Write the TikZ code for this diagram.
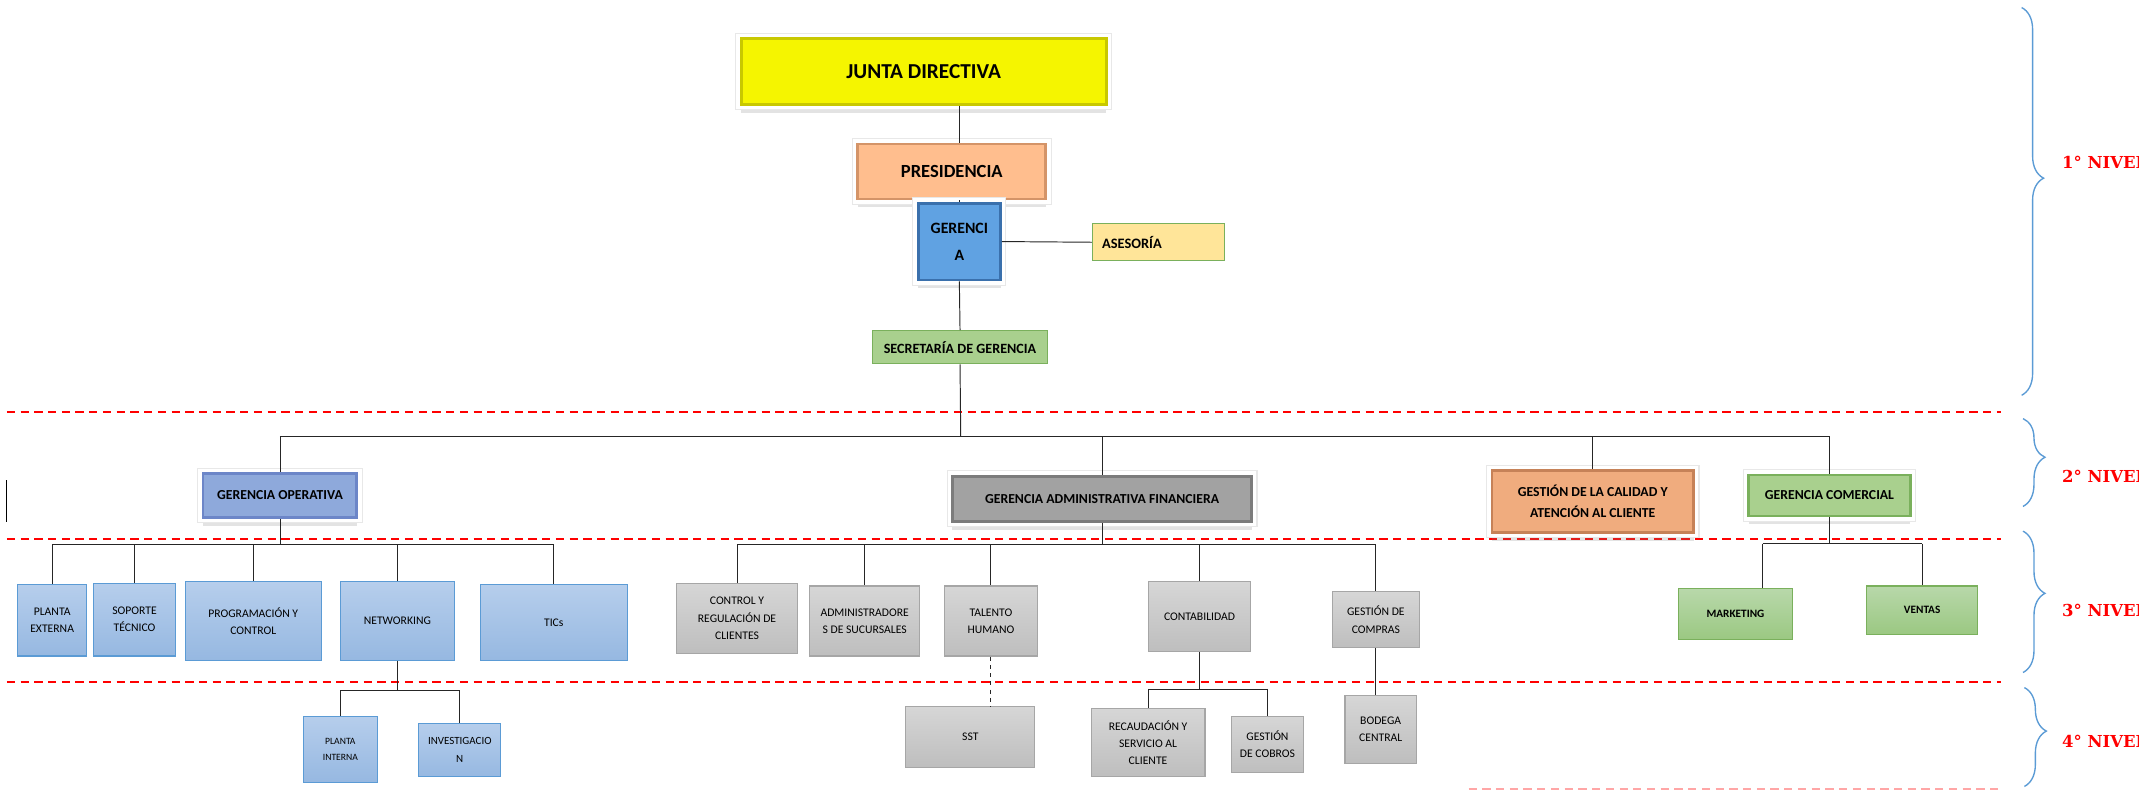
\documentclass[tikz,border=0pt]{standalone}
\usepackage{fontspec}
\setmainfont{Carlito}
\newfontfamily\nivelfont{DejaVu Serif}
\usetikzlibrary{shadows,decorations.pathreplacing}

\definecolor{jdfill}{RGB}{245,245,0}
\definecolor{jdline}{RGB}{200,200,0}
\definecolor{presfill}{RGB}{255,190,142}
\definecolor{presline}{RGB}{212,148,104}
\definecolor{gerfill}{RGB}{96,162,226}
\definecolor{gerline}{RGB}{58,112,172}
\definecolor{asefill}{RGB}{255,229,153}
\definecolor{greenfill}{RGB}{169,208,142}
\definecolor{greenline}{RGB}{122,176,92}
\definecolor{gofill}{RGB}{142,169,219}
\definecolor{goline}{RGB}{108,134,200}
\definecolor{gaffill}{RGB}{162,162,162}
\definecolor{gafline}{RGB}{124,124,124}
\definecolor{calfill}{RGB}{240,172,126}
\definecolor{calline}{RGB}{198,130,88}
\definecolor{bluetop}{RGB}{182,206,236}
\definecolor{bluebot}{RGB}{150,184,225}
\definecolor{blueline}{RGB}{91,155,213}
\definecolor{graytop}{RGB}{214,214,214}
\definecolor{graybot}{RGB}{190,190,190}
\definecolor{grayline}{RGB}{166,166,166}
\definecolor{greentop}{RGB}{184,216,170}
\definecolor{greenbot}{RGB}{155,200,130}
\definecolor{braceblue}{RGB}{91,155,213}

\begin{document}
\begin{tikzpicture}[
    x=1pt, y=-1pt,
    font=\bfseries,
    box/.style={rectangle, inner sep=1pt, align=center, text=black},
    bevel/.style={draw=#1, line width=2pt},
    halo/.style={drop shadow={opacity=.22, shadow xshift=0pt, shadow yshift=-6pt},
        preaction={draw=black!9, line width=8.6pt},
        preaction={draw=white, line width=7pt}},
    topbox/.style={box, font=\bfseries\fontsize{10}{15.5}\selectfont},
    bluebox/.style={box, top color=bluetop, bottom color=bluebot, draw=blueline,
        line width=.8pt, font=\fontsize{8.5}{12.5}\selectfont},
    graybox/.style={box, top color=graytop, bottom color=graybot, draw=grayline,
        line width=.8pt, font=\fontsize{8.5}{12.5}\selectfont},
    greenbox/.style={box, top color=greentop, bottom color=greenbot, draw=greenline,
        line width=.8pt, font=\bfseries\fontsize{8.2}{12}\selectfont},
    conn/.style={draw=black!85, line width=.7pt},
    level/.style={draw=red, line width=1.6pt, dash pattern=on 6pt off 4pt},
    nivelbrace/.style={draw=braceblue, line width=1pt, decorate,
        decoration={brace, amplitude=16pt, aspect=.44}},
    nivel/.style={anchor=west, text=red, font=\nivelfont\bfseries\fontsize{12}{12}\selectfont}
]
\useasboundingbox (0,0) rectangle (1568,576);

% Niveles
\draw[level] (5,300) -- (1458,300);
\draw[level] (5,393) -- (1458,393);
\draw[level] (5,497) -- (1458,497);
\draw[level, opacity=.35] (1070,575) -- (1458,575);
\draw[black, line width=.6pt] (5,350) -- (5,380);

\draw[nivelbrace] (1473,5.5) -- (1473,288);
\draw[nivelbrace] (1474,305) -- (1474,369);
\draw[nivelbrace] (1474,387) -- (1474,490);
\draw[nivelbrace] (1475,501) -- (1475,573);
\begin{scope}
\clip (1490,0) rectangle (1558.5,576);
\node[nivel] (n1) at (1499,118) {1° NIVEL};
\node[nivel] (n2) at (1499,347) {2° NIVEL};
\node[nivel] (n3) at (1499,445) {3° NIVEL};
\node[nivel] (n4) at (1499,540) {4° NIVEL};
\end{scope}

% Primer nivel
\node[box, halo, fill=jdfill, bevel=jdline, minimum width=266pt, minimum height=48pt,
    font=\bfseries\fontsize{15.5}{18}\selectfont] (jd) at (673,52) {JUNTA DIRECTIVA};
\node[box, halo, fill=presfill, bevel=presline, minimum width=137pt, minimum height=40pt,
    font=\bfseries\fontsize{13.5}{16}\selectfont] (pres) at (693.5,125) {PRESIDENCIA};
\node[box, halo, fill=gerfill, bevel=gerline, minimum width=60pt, minimum height=56pt,
    font=\bfseries\fontsize{11.5}{20}\selectfont] (ger) at (699,176) {GERENCI\\A};
\node[box, fill=asefill, draw=greenline, line width=.8pt, text width=82pt, align=left,
    inner xsep=7pt, minimum height=27pt,
    font=\bfseries\fontsize{10.5}{12}\selectfont] (ase) at (844,176.5) {ASESORÍA};
\node[box, fill=greenfill, draw=greenline, line width=.8pt, minimum width=127pt,
    minimum height=24pt, font=\bfseries\fontsize{10.3}{12}\selectfont] (sec) at (699.5,253)
    {SECRETARÍA DE GERENCIA};

\draw[conn] (jd.south -| ger.north) -- (pres.north -| ger.north);
\draw[conn] (pres.south -| ger.north) -- (ger.north);
\draw[conn] (ger.east) -- (ase.west);
\draw[conn] (ger.south) -- (sec.north);

% Segundo nivel
\node[topbox, halo, fill=gofill, bevel=goline, minimum width=112pt, minimum height=32pt]
    (go) at (204,361) {GERENCIA OPERATIVA};
\node[topbox, halo, fill=gaffill, bevel=gafline, minimum width=218pt, minimum height=33pt]
    (gaf) at (803,363.5) {GERENCIA ADMINISTRATIVA FINANCIERA};
\node[topbox, halo, fill=calfill, bevel=calline, minimum width=147pt, minimum height=45pt]
    (gcal) at (1160.5,365.5) {GESTIÓN DE LA CALIDAD Y\\ATENCIÓN AL CLIENTE};
\node[topbox, halo, fill=greenfill, bevel=greenline, minimum width=118pt, minimum height=30pt]
    (gcom) at (1333,361) {GERENCIA COMERCIAL};

\coordinate (bus) at (700,318);
\draw[conn] (sec.south) -- (bus);
\draw[conn] (go.north |- bus) -- (gcom.north |- bus);
\draw[conn] (go.north |- bus) -- (go.north) (gaf.north |- bus) -- (gaf.north)
    (gcal.north |- bus) -- (gcal.north) (gcom.north |- bus) -- (gcom.north);

% Tercer nivel: gerencia operativa
\node[bluebox, minimum width=50pt, minimum height=52pt] (pe) at (38,452) {PLANTA\\EXTERNA};
\node[bluebox, minimum width=60pt, minimum height=53pt] (st) at (98,451.5) {SOPORTE\\TÉCNICO};
\node[bluebox, minimum width=99pt, minimum height=57pt] (pc) at (184.5,452.5) {PROGRAMACIÓN Y\\CONTROL};
\node[bluebox, minimum width=83pt, minimum height=57pt] (nw) at (289.5,452.5) {NETWORKING};
\node[bluebox, minimum width=107pt, minimum height=55pt] (tic) at (403.5,453.5) {TICs};

\coordinate (gobus) at (204,397);
\draw[conn] (go.south) -- (gobus);
\draw[conn] (pe.north |- gobus) -- (tic.north |- gobus);
\draw[conn] (pe.north |- gobus) -- (pe.north) (st.north |- gobus) -- (st.north)
    (pc.north |- gobus) -- (pc.north) (nw.north |- gobus) -- (nw.north)
    (tic.north |- gobus) -- (tic.north);

% Tercer nivel: gerencia administrativa financiera
\node[graybox, minimum width=88pt, minimum height=51pt] (crc) at (537,450.5) {CONTROL Y\\REGULACIÓN DE\\CLIENTES};
\node[graybox, minimum width=80pt, minimum height=51pt] (ads) at (630,452.5) {ADMINISTRADORE\\S DE SUCURSALES};
\node[graybox, minimum width=68pt, minimum height=51pt] (th) at (722,452.5) {TALENTO\\HUMANO};
\node[graybox, minimum width=74pt, minimum height=51pt] (cont) at (874,449.5) {CONTABILIDAD};
\node[graybox, minimum width=63pt, minimum height=41pt] (gcomp) at (1002.5,451.5) {GESTIÓN DE\\COMPRAS};

\coordinate (gafbus) at (gaf.south |- 0,397);
\draw[conn] (gaf.south) -- (gafbus);
\draw[conn] (crc.north |- gafbus) -- (gcomp.north |- gafbus);
\draw[conn] (crc.north |- gafbus) -- (crc.north) (ads.north |- gafbus) -- (ads.north)
    (th.north |- gafbus) -- (th.north) (cont.north |- gafbus) -- (cont.north)
    (gcomp.north |- gafbus) -- (gcomp.north);

% Tercer nivel: gerencia comercial
\node[greenbox, minimum width=83pt, minimum height=37pt] (mkt) at (1264.5,447.5) {MARKETING};
\node[greenbox, minimum width=81pt, minimum height=35pt] (ven) at (1400.5,444.5) {VENTAS};

\coordinate (gcombus) at (gcom.south |- 0,396);
\draw[conn] (gcom.south) -- (gcombus);
\draw[conn] ([xshift=20pt]mkt.north |- gcombus) -- (ven.north |- gcombus);
\draw[conn] ([xshift=20pt]mkt.north |- gcombus) -- ([xshift=20pt]mkt.north)
    (ven.north |- gcombus) -- (ven.north);

% Cuarto nivel
\node[bluebox, minimum width=54pt, minimum height=48pt, font=\fontsize{7}{11}\selectfont]
    (pi) at (248,546) {PLANTA\\INTERNA};
\node[bluebox, minimum width=60pt, minimum height=39pt, font=\fontsize{8}{13}\selectfont]
    (inv) at (335,546.5) {INVESTIGACIO\\N};
\node[graybox, minimum width=94pt, minimum height=44pt] (sst) at (707,537) {SST};
\node[graybox, minimum width=83pt, minimum height=50pt] (rec) at (836.5,541) {RECAUDACIÓN Y\\SERVICIO AL\\CLIENTE};
\node[graybox, minimum width=53pt, minimum height=41pt] (cob) at (923.5,542.5) {GESTIÓN\\DE COBROS};
\node[graybox, minimum width=52pt, minimum height=49pt] (bod) at (1006,531.5) {BODEGA\\CENTRAL};

\coordinate (nwbus) at (nw.south |- 0,503);
\draw[conn] (nw.south) -- (nwbus);
\draw[conn] (pi.north |- nwbus) -- (inv.north |- nwbus);
\draw[conn] (pi.north |- nwbus) -- (pi.north) (inv.north |- nwbus) -- (inv.north);

\coordinate (contbus) at (cont.south |- 0,502);
\draw[conn] (cont.south) -- (contbus);
\draw[conn] (rec.north |- contbus) -- (cob.north |- contbus);
\draw[conn] (rec.north |- contbus) -- (rec.north) (cob.north |- contbus) -- (cob.north);

\draw[conn, dashed] (th.south) -- (th.south |- sst.north);
\draw[conn] (gcomp.south) -- (gcomp.south |- bod.north);
\end{tikzpicture}
\end{document}
